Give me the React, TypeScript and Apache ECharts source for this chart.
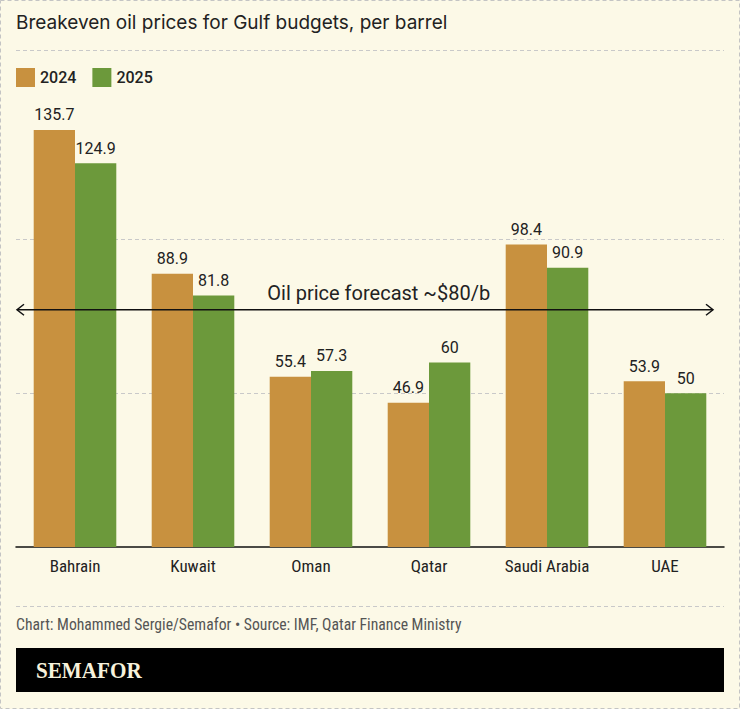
import React, { useEffect, useRef } from "react";
import * as echarts from "echarts";

const categories = ["Bahrain", "Kuwait", "Oman", "Qatar", "Saudi Arabia", "UAE"];
const values2024 = [135.7, 88.9, 55.4, 46.9, 98.4, 53.9];
const values2025 = [124.9, 81.8, 57.3, 60, 90.9, 50];
const seriesNames = ["2024", "2025"];
const forecastPrice = 77.2;
const forecastLabel = "Oil price forecast ~$80/b";
const titleText = "Breakeven oil prices for Gulf budgets, per barrel";
const footerText = "Chart: Mohammed Sergie/Semafor \u2022 Source: IMF, Qatar Finance Ministry";
const brandText = "SEMAFOR";

const BG = "#fcf9e7";
const C2024 = "#c8913f";
const C2025 = "#6c993b";
const DASH = "#c9c9c9";
const NARROW = "'Liberation Sans Narrow', 'Roboto Condensed', Roboto, sans-serif";

export default function App() {
  const ref = useRef<HTMLDivElement>(null);
  useEffect(() => {
    document.body.style.margin = "0";
    const chart = echarts.init(ref.current!, undefined, { renderer: "svg" });
    const labelStyle = {
      show: true,
      position: "top",
      distance: 7,
      fontFamily: "Roboto, sans-serif",
      fontSize: 16,
      color: "#222",
    };
    chart.setOption({
      animation: false,
      backgroundColor: BG,
      grid: { left: 16, right: 16, top: 86, bottom: 162, containLabel: false },
      legend: {
        left: 16,
        top: 68,
        padding: 0,
        itemWidth: 19,
        itemHeight: 19,
        itemGap: 16,
        icon: "rect",
        textStyle: { fontSize: 16, fontWeight: 500, color: "#222", fontFamily: "Roboto, sans-serif" },
        data: seriesNames,
      },
      xAxis: {
        type: "category",
        data: categories,
        axisLine: { lineStyle: { color: "#111", width: 1.5 } },
        axisTick: { show: false },
        axisLabel: { margin: 10, fontSize: 17, color: "#222", fontFamily: NARROW },
      },
      yAxis: {
        type: "value",
        min: 0,
        max: 150,
        interval: 50,
        axisLabel: { show: false },
        axisLine: { show: false },
        axisTick: { show: false },
        splitLine: {
          lineStyle: {
            color: ["rgba(0,0,0,0)", DASH, DASH, "rgba(0,0,0,0)"],
            type: [4, 3],
            width: 1,
          },
        },
      },
      series: [
        {
          name: seriesNames[0],
          type: "bar",
          data: values2024,
          barGap: "0%",
          barCategoryGap: "30%",
          itemStyle: { color: C2024 },
          label: labelStyle,
        },
        {
          name: seriesNames[1],
          type: "bar",
          data: values2025,
          barGap: "0%",
          barCategoryGap: "30%",
          itemStyle: { color: C2025 },
          label: labelStyle,
        },
      ],
    });

    const yLine = chart.convertToPixel({ yAxisIndex: 0 }, forecastPrice) as number;
    const leftTip = 17;
    const rightTip = 713;
    const dashStyle = { stroke: DASH, lineWidth: 1, lineDash: [4, 3] };
    chart.setOption({
      graphic: [
        {
          type: "rect",
          shape: { x: 0.5, y: 0.5, width: 739, height: 708 },
          style: { fill: "none", stroke: "#c4c4c4", lineWidth: 1, lineDash: [4, 3] },
          silent: true,
        },
        {
          type: "text",
          x: 16,
          y: 22.7,
          style: {
            text: titleText,
            fontSize: 19,
            fontFamily: "Inter, 'Liberation Sans', Arial, sans-serif",
            fill: "#222",
            verticalAlign: "middle",
          },
        },
        { type: "line", shape: { x1: 16, y1: 50.5, x2: 724, y2: 50.5 }, style: dashStyle },
        { type: "line", shape: { x1: 16, y1: 606.5, x2: 724, y2: 606.5 }, style: dashStyle },
        {
          type: "text",
          x: 16,
          y: 624.5,
          style: {
            text: footerText,
            fontSize: 15.7,
            fontFamily: NARROW,
            fill: "#555",
            verticalAlign: "middle",
          },
        },
        {
          type: "rect",
          shape: { x: 16, y: 648, width: 708, height: 44 },
          style: { fill: "#000" },
        },
        {
          type: "text",
          x: 36,
          y: 670.5,
          scaleX: 0.9,
          style: {
            text: brandText,
            fontSize: 23.5,
            fontWeight: "bold",
            fontFamily: "'Liberation Serif', 'DejaVu Serif', serif",
            fill: "#f7f2dc",
            verticalAlign: "middle",
          },
        },
        {
          type: "line",
          z: 100,
          shape: { x1: leftTip, y1: yLine, x2: rightTip, y2: yLine },
          style: { stroke: "#111", lineWidth: 1.5 },
        },
        {
          type: "polyline",
          z: 100,
          shape: { points: [[leftTip + 7, yLine - 5.5], [leftTip, yLine], [leftTip + 7, yLine + 5.5]] },
          style: { stroke: "#111", lineWidth: 1.5, fill: "none" },
        },
        {
          type: "polyline",
          z: 100,
          shape: { points: [[rightTip - 7, yLine - 5.5], [rightTip, yLine], [rightTip - 7, yLine + 5.5]] },
          style: { stroke: "#111", lineWidth: 1.5, fill: "none" },
        },
        {
          type: "text",
          z: 100,
          x: 378.7,
          y: yLine - 16.7,
          style: {
            text: forecastLabel,
            fontSize: 20,
            fontFamily: "Roboto, sans-serif",
            fill: "#222",
            align: "center",
            verticalAlign: "middle",
          },
        },
      ],
    });
    return () => chart.dispose();
  }, []);
  return <div ref={ref} style={{ width: 740, height: 709 }} />;
}
